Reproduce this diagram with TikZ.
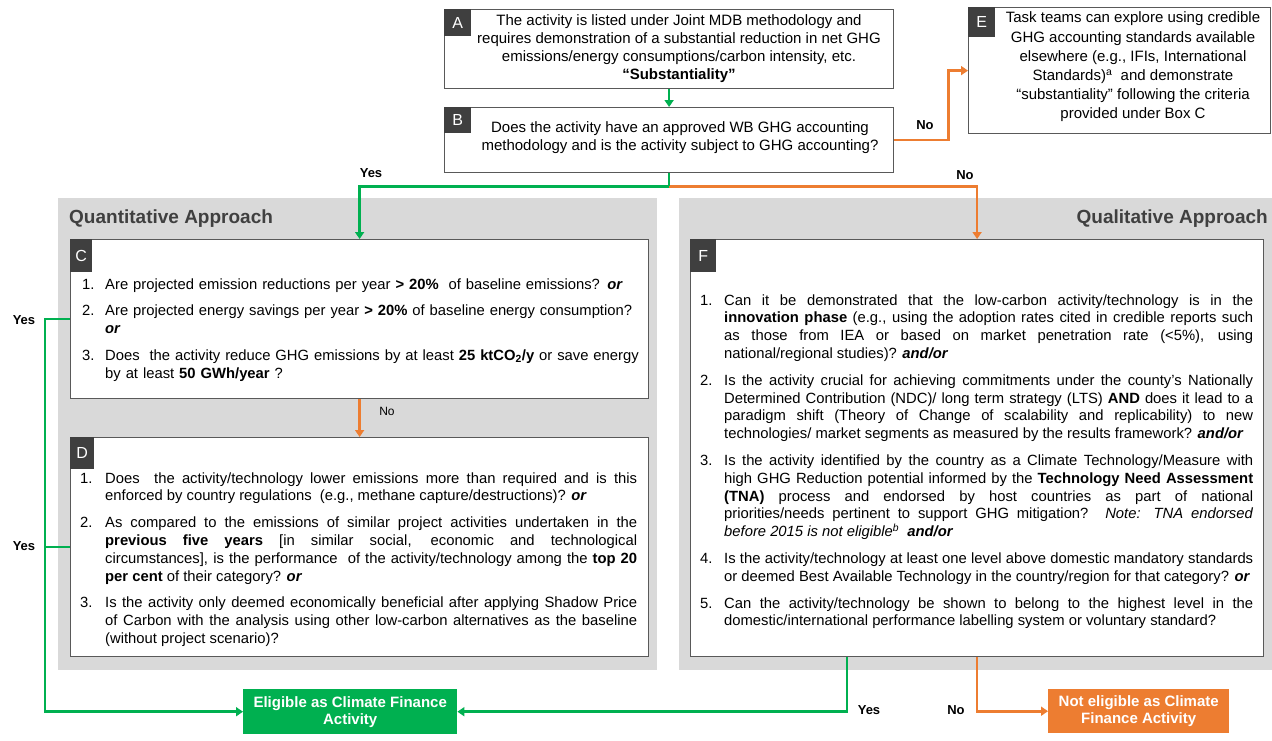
\documentclass[tikz,border=0pt]{standalone}
\usepackage{fontspec}
\setmainfont{Liberation Sans}
\usetikzlibrary{arrows.meta,calc}
\definecolor{cgreen}{HTML}{00B050}
\definecolor{corange}{HTML}{ED7D31}
\definecolor{cpanel}{HTML}{D9D9D9}
\definecolor{clabel}{HTML}{3F3F3F}
\definecolor{cborder}{HTML}{595959}
\definecolor{ctitle}{HTML}{404040}
\newcommand{\lstitem}[2][24pt]{\noindent\hangindent=#1\hangafter=1\makebox[#1][l]{#2}\ignorespaces}
\newcommand{\nohy}{\hyphenpenalty=10000\exhyphenpenalty=10000\setlength{\parskip}{9pt}\hbadness=10000\hfuzz=20pt}
\newcommand{\bi}[1]{\textbf{\textit{#1}}}
\newcommand{\brk}{\hfil\break}
\tikzset{
  panel/.style={fill=cpanel, draw=none, inner sep=0pt, anchor=north west},
  box/.style={draw=cborder, line width=1.2pt, fill=white, inner sep=0pt, anchor=north west},
  tag/.style={fill=clabel, text=white, font=\fontsize{16}{16}\selectfont, inner sep=0pt, anchor=north west},
  body/.style={font=\fontsize{15}{17.8}\selectfont, inner sep=0pt},
  list/.style={font=\fontsize{14.8}{17.8}\selectfont, inner sep=0pt, anchor=base west},
  glink/.style={draw=cgreen, line width=2.6pt},
  olink/.style={draw=corange, line width=2.6pt},
  tip/.style={-{Triangle[length=7pt,width=9pt]}},
  yn/.style={font=\fontsize{13}{13}\selectfont\bfseries, inner sep=1pt},
  hdr/.style={font=\fontsize{19}{19}\selectfont\bfseries, text=ctitle, inner sep=0pt},
  endbox/.style={text=white, font=\fontsize{15}{17}\selectfont\bfseries, align=center, inner sep=0pt, anchor=north west},
}
\begin{document}
\begin{tikzpicture}[x=1pt, y=-1pt]
\useasboundingbox (0,0) rectangle (1272,740);
\fill[white] (0,0) rectangle (1272,740);

% panels
\node[panel, minimum width=599pt, minimum height=472pt] (PL) at (58,198) {};
\node[panel, minimum width=593pt, minimum height=472pt] (PR) at (679,198) {};
\node[hdr, anchor=base west] (HL) at (69,223) {Quantitative Approach};
\node[hdr, anchor=base east] (HR) at (1268,223) {Qualitative Approach};

% boxes
\node[box, minimum width=449pt, minimum height=79pt] (A) at (444,9) {};
\node[body, align=center] (At) at (679,48.5) {The activity is listed under Joint MDB methodology and\\
requires demonstration of a substantial reduction in net GHG\\
emissions/energy consumptions/carbon intensity, etc.\\
\textbf{“Substantiality”}};
\node[tag, minimum width=27pt, minimum height=27pt] (tA) at (A.north west) {A};

\node[box, minimum width=449pt, minimum height=65pt] (B) at (444,107) {};
\node[body, align=center] (Bt) at (680,137.5) {Does the activity have an approved WB GHG accounting\\
methodology and is the activity subject to GHG accounting?};
\node[tag, minimum width=27pt, minimum height=26pt] (tB) at (B.north west) {B};

\node[box, minimum width=302pt, minimum height=126pt] (E) at (968,7) {};
\node[align=center, inner sep=0pt, font=\fontsize{15}{19.2}\selectfont] (Et) at (1133,67) {Task teams can explore using credible\\
GHG accounting standards available\\
elsewhere (e.g., IFIs, International\\
Standards)\textsuperscript{a}\ \ and demonstrate\\
“substantiality” following the criteria\\
provided under Box C};
\node[tag, minimum width=27pt, minimum height=30pt] (tE) at (E.north west) {E};

\node[box, minimum width=578pt, minimum height=159pt] (C) at (70,239) {};
\node[list, text width=566pt, align=left] (Ct) at (82,289) {\nohy
\lstitem[23pt]{1.}Are projected emission reductions per year \textbf{> 20\%}\ \ of baseline emissions? \bi{or}\par
\lstitem[23pt]{2.}Are projected energy savings per year \textbf{> 20\%} of baseline energy consumption?\brk\bi{or}\par
\lstitem[23pt]{3.}Does\ \ the activity reduce GHG emissions by at least \textbf{25 ktCO\textsubscript{2}/y} or save energy\brk by at least \textbf{50 GWh/year} ?\par};
\node[tag, minimum width=22pt, minimum height=33pt] (tC) at (C.north west) {C};

\node[box, minimum width=578pt, minimum height=219pt] (D) at (70,437) {};
\node[list, text width=557pt, align=justify] (Dt) at (80,483) {\nohy
\lstitem[25pt]{1.}Does\ \ the activity/technology lower emissions more than required and is this \linebreak enforced by country regulations\ \ (e.g., methane capture/destructions)? \bi{or}\par
\lstitem[25pt]{2.}As compared to the emissions of similar project activities undertaken in the \linebreak \textbf{previous five years} [in similar social, economic and technological \linebreak circumstances], is the performance\ \ of the activity/technology among the \textbf{top 20} \linebreak \textbf{per cent} of their category? \bi{or}\par
\lstitem[25pt]{3.}Is the activity only deemed economically beneficial after applying Shadow Price \linebreak of Carbon with the analysis using other low-carbon alternatives as the baseline \linebreak (without project scenario)?\par};
\node[tag, minimum width=24pt, minimum height=32pt] (tD) at (D.north west) {D};

\node[box, minimum width=573pt, minimum height=417pt] (F) at (690,239) {};
\node[list, text width=553pt, align=justify] (Ft) at (700,305) {\nohy
\lstitem{1.}Can it be demonstrated that the low-carbon activity/technology is in the \linebreak \textbf{innovation phase} (e.g., using the adoption rates cited in credible reports such \linebreak as those from IEA or based on market penetration rate (<5\%), using \linebreak national/regional studies)? \bi{and/or}\par
\lstitem{2.}Is the activity crucial for achieving commitments under the county’s Nationally \linebreak Determined Contribution (NDC)/ long term strategy (LTS) \textbf{AND} does it lead to a \linebreak paradigm shift (Theory of Change of scalability and replicability) to new \linebreak technologies/ market segments as measured by the results framework? \bi{and/or}\par
\lstitem{3.}Is the activity identified by the country as a Climate Technology/Measure with \linebreak high GHG Reduction potential informed by the \textbf{Technology Need Assessment} \linebreak \textbf{(TNA)} process and endorsed by host countries as part of national \linebreak priorities/needs pertinent to support GHG mitigation? \textit{Note: TNA endorsed} \linebreak \textit{before 2015 is not eligible\textsuperscript{b}}\ \ \bi{and/or}\par
\lstitem{4.}Is the activity/technology at least one level above domestic mandatory standards \linebreak or deemed Best Available Technology in the country/region for that category? \bi{or}\par
\lstitem{5.}Can the activity/technology be shown to belong to the highest level in the \linebreak domestic/international performance labelling system or voluntary standard?\par};
\node[tag, minimum width=26pt, minimum height=33pt] (tF) at (F.north west) {F};

\node[endbox, fill=cgreen, minimum width=214pt, minimum height=45pt] (Elig) at (243,689) {Eligible as Climate Finance\\Activity};
\node[endbox, fill=corange, minimum width=181pt, minimum height=44pt] (NotE) at (1048,689) {Not eligible as Climate\\Finance Activity};

% connectors
\draw[glink, tip] (A.south) -- (B.north);
\draw[olink, tip] (B.east) -- ++(54,0) |- (E.west);
\node[yn] (noE) at (925,125) {No};

\path (B.south) ++(0,13) coordinate (split);
\draw[glink, tip] (split) -| (C.north);
\draw[olink, tip] (split) -| (F.north);
\draw[glink] (B.south) -- (split);
\node[yn] (yesC) at (371,173) {Yes};
\node[yn] (noF) at (965,175) {No};

\draw[olink, tip] (C.south) -- (D.north);
\node[font=\fontsize{12}{12}\selectfont, inner sep=0pt] (noD) at (387,411) {No};

\draw[glink, tip] (C.west) -- ++(-25,0) |- (Elig.west);
\draw[glink] (D.west) -- ++(-25,0);
\node[yn] (yesL1) at (24,320) {Yes};
\node[yn] (yesL2) at (24,546) {Yes};

\coordinate (Fy) at ($(F.south)+(-130,0)$);
\draw[glink, tip] (Fy) |- (Elig.east);
\draw[olink, tip] (F.south) |- (NotE.west);
\node[yn] (yesF) at (869,710) {Yes};
\node[yn] (noN) at (956,710) {No};
\end{tikzpicture}
\end{document}
